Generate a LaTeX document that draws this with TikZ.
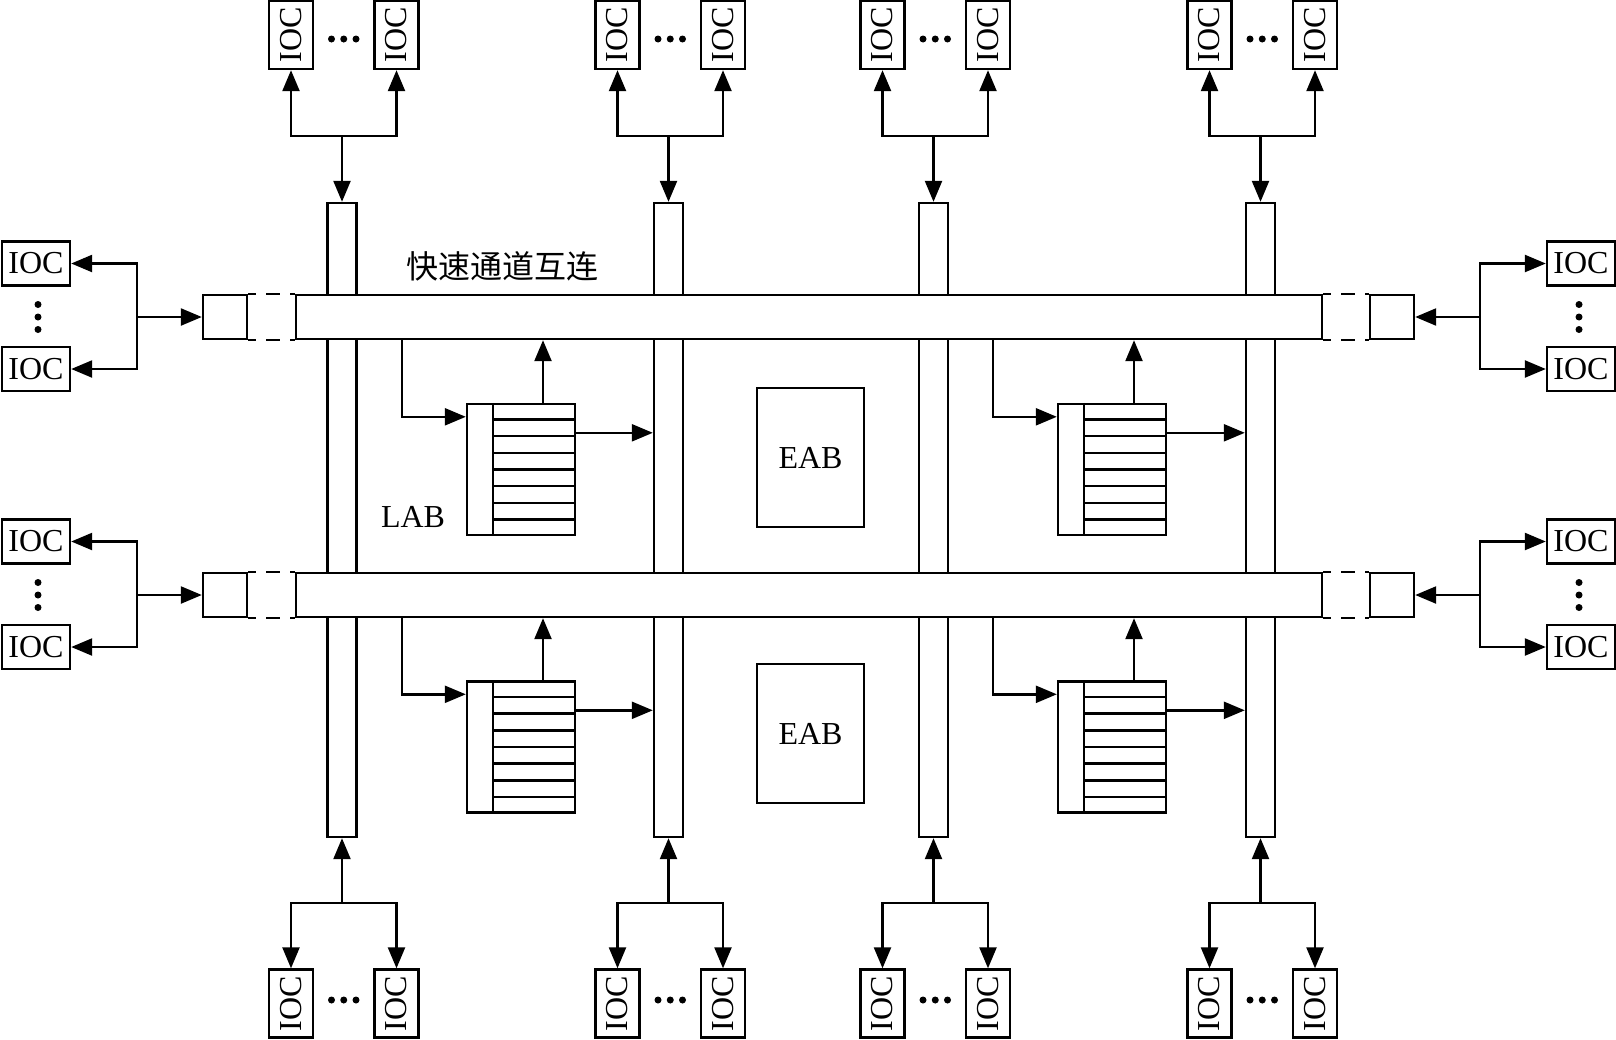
\documentclass[tikz,border=0pt]{standalone}
\usepackage{fontspec}
\setmainfont{Liberation Serif}
\newfontfamily\cjk{Noto Sans CJK SC}
\usepackage{tikz}
\usetikzlibrary{arrows.meta,calc}

\tikzset{
  wire/.style={line width=1.2pt},
  box/.style={draw, wire, inner sep=0pt, fill=white},
  lbl/.style={font=\fontsize{16pt}{18pt}\selectfont},
  ioc/.style={box, lbl, minimum width=34pt, minimum height=22pt},
  iocv/.style={ioc, rotate=90},
  col/.style={box, minimum width=14.5pt, minimum height=317pt},
  bus/.style={box, minimum width=513pt, minimum height=22pt},
  port/.style={box, minimum width=22pt, minimum height=22pt},
  labbox/.style={box, minimum width=54pt, minimum height=65.5pt},
  eab/.style={box, lbl, minimum width=53.5pt, minimum height=69.5pt},
  gap/.style={wire, dash pattern=on 7pt off 5pt, dash phase=3pt},
}

% LAB block: name, centre
\newcommand{\labblk}[2]{%
  \node[labbox] (#1) at (#2) {};
  \draw[wire] ($(#1.north west)+(13.5pt,0)$) -- ($(#1.south west)+(13.5pt,0)$);
  \foreach \k in {1,...,7}
    \draw[wire] ($(#1.north west)!\k/8!(#1.south west)+(13.5pt,0)$) -- ($(#1.north east)!\k/8!(#1.south east)$);
}

\begin{document}
\begin{tikzpicture}[x=0.5pt, y=-0.5pt, >={Triangle[length=10.5pt,width=8.5pt]}]
  \useasboundingbox (0,0) rectangle (1616,1039);

  % vertical channels, then the horizontal ones on top
  \foreach \c [count=\i] in {342,668.5,933.5,1260.5}
    \node[col] (c\i) at (\c,520) {};
  \node[bus] (b1) at (809,317) {};
  \node[bus] (b2) at (809,595) {};
  \node[lbl, font=\cjk\fontsize{16pt}{18pt}\selectfont] (title) at (502,266) {快速通道互连};

  % end ports of the rows
  \node[port] (pl1) at (225,317) {};
  \node[port] (pl2) at (225,595) {};
  \node[port] (pr1) at (1392,317) {};
  \node[port] (pr2) at (1392,595) {};
  \draw[gap] (pl1.north east) -- (b1.north west);
  \draw[gap] (pl1.south east) -- (b1.south west);
  \draw[gap] (pl2.north east) -- (b2.north west);
  \draw[gap] (pl2.south east) -- (b2.south west);
  \draw[gap] (b1.north east) -- (pr1.north west);
  \draw[gap] (b1.south east) -- (pr1.south west);
  \draw[gap] (b2.north east) -- (pr2.north west);
  \draw[gap] (b2.south east) -- (pr2.south west);

  % IOCs above and below the columns
  \foreach \c [count=\i] in {342,668.5,933.5,1260.5} {
    \node[iocv] (ta\i) at (\c-51,35) {IOC};
    \node[iocv] (tb\i) at (\c+54.5,35) {IOC};
    \coordinate (tj\i) at (\c,136);
    \draw[wire,->] (tj\i) -- (c\i);
    \draw[wire,->] (tj\i) -| (ta\i);
    \draw[wire,->] (tj\i) -| (tb\i);
    \node[iocv] (ba\i) at (\c-51,1003.5) {IOC};
    \node[iocv] (bb\i) at (\c+54.5,1003.5) {IOC};
    \coordinate (bj\i) at (\c,903);
    \draw[wire,->] (bj\i) -- (c\i);
    \draw[wire,->] (bj\i) -| (ba\i);
    \draw[wire,->] (bj\i) -| (bb\i);
    \foreach \d in {-10.5,1.75,14} {
      \fill (\c+\d,39) circle (1.75pt);
      \fill (\c+\d,1000) circle (1.75pt);
    }
  }

  % IOCs left and right of the rows
  \foreach \y [count=\i] in {317,595} {
    \node[ioc] (la\i) at (36,\y-53.5) {IOC};
    \node[ioc] (lb\i) at (36,\y+52) {IOC};
    \coordinate (lj\i) at (137,\y);
    \draw[wire,->] (lj\i) -- (pl\i);
    \draw[wire,->] (lj\i) |- (la\i);
    \draw[wire,->] (lj\i) |- (lb\i);
    \node[ioc] (ra\i) at (1581,\y-53.5) {IOC};
    \node[ioc] (rb\i) at (1581,\y+52) {IOC};
    \coordinate (rj\i) at (1480,\y);
    \draw[wire,->] (rj\i) -- (pr\i);
    \draw[wire,->] (rj\i) |- (ra\i);
    \draw[wire,->] (rj\i) |- (rb\i);
    \foreach \d in {-12.5,0,12.5} {
      \fill (38,\y+\d) circle (1.75pt);
      \fill (1579,\y+\d) circle (1.75pt);
    }
  }

  % logic array blocks
  \labblk{lab1}{521,469.5}
  \labblk{lab2}{1112,469.5}
  \labblk{lab3}{521,747}
  \labblk{lab4}{1112,747}
  \node[lbl] (lablbl) at (413,517) {LAB};

  \foreach \n/\b/\c in {lab1/b1/c2, lab2/b1/c4, lab3/b2/c2, lab4/b2/c4} {
    \coordinate (\n-in) at ([xshift=-32pt,yshift=-7pt]\n.north west);
    \coordinate (\n-up) at ([xshift=11pt]\n.north);
    \coordinate (\n-out) at ([yshift=-15pt]\n.north east);
    \draw[wire,->] (\n-in |- \b.south) |- (\n.west |- \n-in);
    \draw[wire,->] (\n-up) -- (\n-up |- \b.south);
    \draw[wire,->] (\n-out) -- (\n-out -| \c.west);
  }

  % embedded array blocks
  \node[eab] (eab1) at (810.5,457.5) {EAB};
  \node[eab] (eab2) at (810.5,733.5) {EAB};
\end{tikzpicture}
\end{document}
